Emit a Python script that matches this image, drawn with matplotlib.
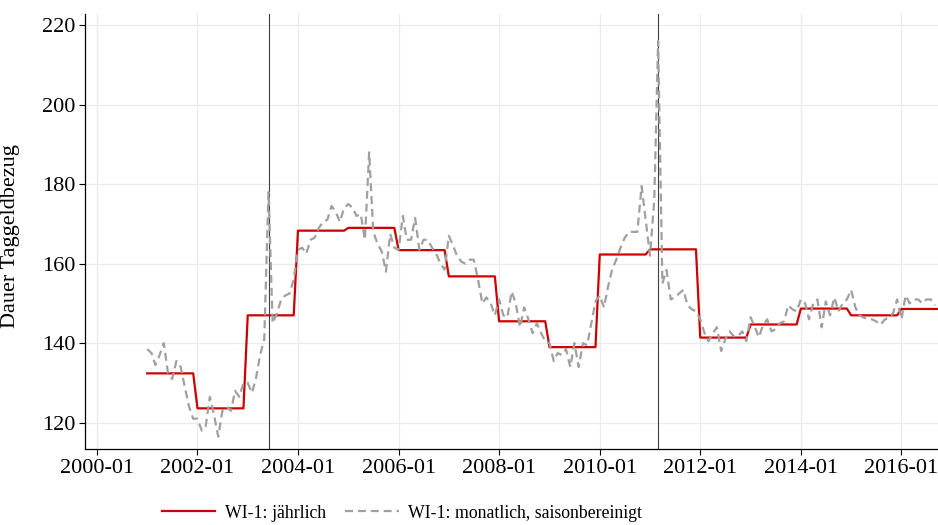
import matplotlib
matplotlib.use("Agg")
import matplotlib.pyplot as plt
import matplotlib.dates as mdates
import pandas as pd
import numpy as np

# ---- data ----
annual_years = list(range(2001, 2017))
annual_values = [132.4, 123.6, 147.0, 168.3, 169.0, 163.4, 156.8, 145.5,
                 139.0, 162.3, 163.6, 141.4, 144.7, 148.7, 147.0, 148.6]

monthly_start = "2001-01"
monthly_sa = [
    # 2001
    138.5, 137.5, 134.5, 137.0, 140.0, 132.5, 131.0, 135.5, 134.0, 129.0, 124.0, 121.0,
    # 2002
    121.0, 118.0, 119.0, 126.5, 122.0, 116.5, 123.0, 124.0, 123.0, 128.0, 126.5, 130.0,
    # 2003
    130.0, 127.5, 131.0, 137.0, 141.0, 178.0, 145.0, 147.5, 151.0, 152.0, 152.5, 156.0,
    # 2004
    163.5, 164.0, 162.5, 166.0, 166.5, 169.0, 170.5, 171.0, 174.5, 173.0, 170.5, 174.0,
    # 2005
    175.0, 174.0, 172.0, 172.5, 166.0, 188.0, 168.0, 165.0, 163.0, 158.0, 167.5, 164.0,
    # 2006
    163.5, 172.0, 166.0, 166.0, 171.5, 163.5, 166.0, 166.0, 164.0, 162.5, 160.0, 158.5,
    # 2007
    167.0, 164.5, 162.0, 160.5, 160.0, 161.0, 161.0, 156.0, 150.0, 151.5, 150.0, 147.0,
    # 2008
    151.0, 147.0, 146.5, 153.0, 150.0, 144.0, 149.0, 146.0, 142.5, 145.0, 142.5, 140.5,
    # 2009
    140.0, 135.5, 137.5, 137.0, 138.5, 134.0, 140.0, 134.0, 140.0, 139.5, 145.0, 150.5,
    # 2010
    152.0, 149.0, 154.0, 158.5, 161.0, 164.0, 166.5, 168.0, 168.0, 168.0, 179.5, 171.0,
    # 2011
    162.0, 176.0, 216.0, 155.0, 158.4, 151.0, 151.5, 152.5, 153.4, 149.5, 148.5, 148.0,
    # 2012
    146.0, 142.5, 140.5, 142.5, 144.0, 138.0, 141.0, 143.0, 141.7, 141.7, 143.0, 140.5,
    # 2013
    146.5, 144.0, 141.5, 144.5, 146.0, 143.0, 143.5, 145.0, 145.5, 149.5, 148.5, 148.0,
    # 2014
    151.0, 150.0, 146.0, 150.0, 151.0, 144.0, 150.5, 147.0, 151.5, 148.0, 150.0, 151.0,
    # 2015
    153.4, 149.0, 147.0, 146.5, 146.0, 146.0, 145.5, 144.6, 145.9, 146.5, 147.5, 151.0,
    # 2016
    146.0, 152.0, 150.0, 151.0, 151.0, 150.0, 151.0, 151.0, 149.5,
]

event_dates = ["2003-06-01", "2011-03-01"]

xtick_years = list(range(2000, 2017, 2))
yticks = [120, 140, 160, 180, 200, 220]

label_annual = "WI-1: jährlich"
label_monthly = "WI-1: monatlich, saisonbereinigt"
ylabel = "Dauer Taggeldbezug"

# ---- build series ----
annual_dates = pd.date_range(f"{annual_years[0]}-01-01", periods=12 * len(annual_years), freq="MS")
annual_monthly = np.repeat(annual_values, 12)
monthly_dates = pd.date_range(monthly_start + "-01", periods=len(monthly_sa), freq="MS")

plt.rcParams["font.family"] = ["Liberation Serif", "DejaVu Serif"]

fig = plt.figure(figsize=(9.38, 5.25), dpi=100)
ax = fig.add_axes([85 / 938, 1 - 449.3 / 525, 1 - 85 / 938, (449.3 - 14) / 525])

ax.grid(True, color="#EBEBEB", lw=0.9, zorder=0)
ax.set_axisbelow(True)

ax.plot(annual_dates, annual_monthly, color="#CC0000", lw=1.6, zorder=3, label=label_annual)
ax.plot(monthly_dates, monthly_sa, color="#A0A0A0", lw=1.6, ls=(0, (3.6, 2.2)), zorder=4,
        label=label_monthly)

for d in event_dates:
    ax.axvline(pd.Timestamp(d), color="#404040", lw=0.8, zorder=2)

ax.set_xlim(pd.Timestamp("1999-10-07"), pd.Timestamp("2016-09-23"))
ax.set_ylim(113.3, 222.8)
ax.set_yticks(yticks)
ax.set_xticks([pd.Timestamp(f"{y}-01-01") for y in xtick_years])
ax.xaxis.set_major_formatter(mdates.DateFormatter("%Y-%m"))

for s in ["top", "right"]:
    ax.spines[s].set_visible(False)
for s in ["left", "bottom"]:
    ax.spines[s].set_linewidth(0.9)

ax.tick_params(axis="both", labelsize=16, length=4, width=0.8, pad=3, color="black")
ax.set_ylabel(ylabel, fontsize=16)
ax.yaxis.set_label_coords(-0.076, 0.49)

fig.legend(loc="center", bbox_to_anchor=(402 / 938, 1 - 513 / 525), ncol=2, frameon=False,
           fontsize=12.8, handlelength=3.0, handletextpad=0.55, columnspacing=1.1)

fig.savefig("out.png", dpi=100)
